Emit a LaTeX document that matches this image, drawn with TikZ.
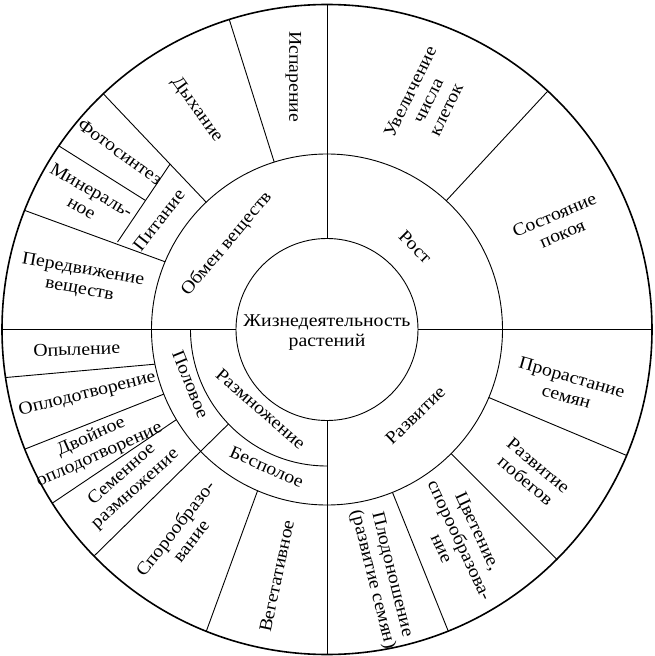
\documentclass[tikz,border=0pt]{standalone}
\usepackage{fontspec}
\setmainfont{Liberation Serif}[FakeStretch=1.1]
\begin{document}
\begin{tikzpicture}[x=1pt,y=1pt,
  lbl/.style={font=\fontsize{18}{20}\selectfont, align=center, inner sep=0pt},
  ln/.style={line width=0.9pt},
  rim/.style={line width=1.6pt}]
\useasboundingbox (-327,-326.5) rectangle (328,329.5);
% circles
\draw[rim] (0,0) circle (325);
\draw[ln] (0,0) circle (175.5);
\draw[ln] (0,0) circle (91);
\draw[ln] (180:136.5) arc (180:270:136.5);
% main axes
\draw[ln] (90:91) -- (90:325);
\draw[ln] (270:91) -- (270:325);
\draw[ln] (180:91) -- (180:325);
\draw[ln] (0:91) -- (0:325);
% upper left
\draw[ln] (107.5:175.5) -- (107.5:325);
\draw[ln] (133.5:175.5) -- (133.5:325);
\draw[ln] (144.6:223) -- (145.6:325);
\draw[ln] (133.5:228) -- (157.3:227);
\draw[ln] (157.3:175.5) -- (158.5:325);
% upper right
\draw[ln] (47.2:175.5) -- (47.2:325);
% lower right
\draw[ln] (-22.8:175.5) -- (-22.8:325);
\draw[ln] (-45:175.5) -- (-45:325);
\draw[ln] (-68.1:175.5) -- (-68.1:325);
% lower left
\draw[ln] (191.4:175.5) -- (188.5:325);
\draw[ln] (201.6:175.5) -- (201.6:325);
\draw[ln] (210.9:175.5) -- (212.3:325);
\draw[ln] (223.8:136.5) -- (224.2:325);
\draw[ln] (246.7:175.5) -- (248.2:325);
% labels
\node[lbl] (center) at (0,-3) {Жизнедеятельность\\растений};
\node[lbl, rotate=-90] (isp) at (-33.7,252.8) {Испарение};
\node[lbl, rotate=-54] (dyh) at (-130.3,219.5) {Дыхание};
\node[lbl, rotate=-36] (foto) at (-207,177.8) {Фотосинтез};
\node[lbl, rotate=-30] (miner) at (-240.3,130.8) {Минераль-\\ное};
\node[lbl, rotate=52] (pit) at (-168,109.5) {Питание};
\node[lbl, rotate=-10] (pered) at (-245.8,49.5) {Передвижение\\веществ};
\node[lbl, rotate=50] (obmen) at (-100.3,85.5) {Обмен веществ};
\node[lbl, rotate=-45] (rost) at (88.3,82.8) {Рост};
\node[lbl, rotate=64] (uvel) at (101,229) {Увеличение\\числа\\клеток};
\node[lbl, rotate=23] (sost) at (231.3,105.3) {Состояние\\покоя};
\node[lbl, rotate=-16] (pror) at (242.2,-57.3) {Прорастание\\семян};
\node[lbl, rotate=-40] (razpob) at (205,-143.5) {Развитие\\побегов};
\node[lbl, rotate=-65] (cvet) at (133,-210.5) {Цветение,\\спорообразова-\\ние};
\node[lbl, rotate=-76] (plod) at (55,-247.5) {Плодоношение\\(развитие семян)};
\node[lbl, rotate=44] (razv) at (88.3,-85.8) {Развитие};
\node[lbl, rotate=2] (opyl) at (-250.3,-19.8) {Опыление};
\node[lbl, rotate=14] (oplod) at (-239.7,-64.8) {Оплодотворение};
\node[lbl, rotate=24] (dvoin) at (-231.7,-116.5) {Двойное\\оплодотворение};
\node[lbl, rotate=42] (semen) at (-198.2,-152.3) {Семенное\\размножение};
\node[lbl, rotate=52] (spor) at (-144.3,-204.8) {Спорообразо-\\вание};
\node[lbl, rotate=78] (veget) at (-50.3,-246.5) {Вегетативное};
\node[lbl, rotate=-68] (polov) at (-136.3,-54.8) {Половое};
\node[lbl, rotate=-41] (razm) at (-66.3,-79.2) {Размножение};
\node[lbl, rotate=-23.5] (bespol) at (-60.3,-137.2) {Бесполое};
\end{tikzpicture}
\end{document}
